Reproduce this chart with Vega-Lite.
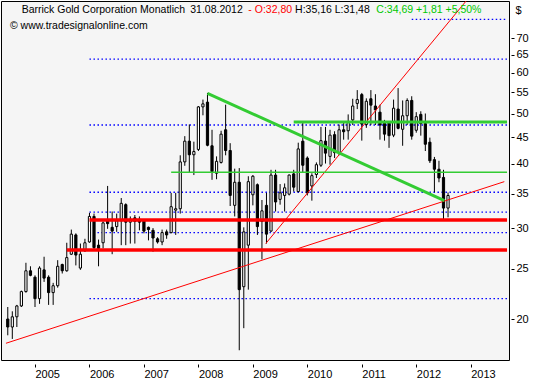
{
  "$schema": "https://vega.github.io/schema/vega-lite/v6.json",
  "autosize": {"type": "none"},
  "padding": {"left": 1, "top": 1, "right": 24, "bottom": 19},
  "width": 508,
  "height": 359,
  "background": "white",
  "config": {
    "view": {"fill": "#f5f5f5", "stroke": "black", "strokeWidth": 1},
    "font": "Liberation Sans"
  },
  "datasets": {
    "candles": [
      {"m":"2004-07","i":-6,"o":20.0,"h":21.1,"l":18.6,"c":19.3},
      {"m":"2004-08","i":-5,"o":19.3,"h":20.7,"l":18.3,"c":20.2},
      {"m":"2004-09","i":-4,"o":20.2,"h":21.3,"l":19.3,"c":21.2},
      {"m":"2004-10","i":-3,"o":21.2,"h":22.7,"l":21.1,"c":22.6},
      {"m":"2004-11","i":-2,"o":22.6,"h":25.7,"l":22.5,"c":24.8},
      {"m":"2004-12","i":-1,"o":24.8,"h":25.3,"l":24.2,"c":24.3},
      {"m":"2005-01","i":0,"o":24.1,"h":24.3,"l":21.1,"c":21.9},
      {"m":"2005-02","i":1,"o":21.9,"h":25.3,"l":21.4,"c":25.1},
      {"m":"2005-03","i":2,"o":24.9,"h":26.4,"l":23.6,"c":24.0},
      {"m":"2005-04","i":3,"o":24.1,"h":24.3,"l":21.3,"c":22.5},
      {"m":"2005-05","i":4,"o":22.5,"h":23.5,"l":21.3,"c":23.2},
      {"m":"2005-06","i":5,"o":23.2,"h":26.0,"l":23.0,"c":25.3},
      {"m":"2005-07","i":6,"o":25.5,"h":25.6,"l":24.5,"c":24.8},
      {"m":"2005-08","i":7,"o":24.8,"h":28.1,"l":24.7,"c":26.3},
      {"m":"2005-09","i":8,"o":26.7,"h":29.8,"l":26.6,"c":29.2},
      {"m":"2005-10","i":9,"o":29.1,"h":29.3,"l":25.4,"c":26.6},
      {"m":"2005-11","i":10,"o":25.1,"h":28.0,"l":24.9,"c":26.7},
      {"m":"2005-12","i":11,"o":27.1,"h":28.6,"l":27.0,"c":28.1},
      {"m":"2006-01","i":12,"o":28.2,"h":32.1,"l":28.1,"c":31.6},
      {"m":"2006-02","i":13,"o":31.6,"h":32.0,"l":27.2,"c":27.5},
      {"m":"2006-03","i":14,"o":27.8,"h":28.5,"l":25.3,"c":27.4},
      {"m":"2006-04","i":15,"o":28.1,"h":30.9,"l":27.4,"c":30.7},
      {"m":"2006-05","i":16,"o":31.0,"h":36.2,"l":29.9,"c":30.6},
      {"m":"2006-06","i":17,"o":30.1,"h":32.3,"l":26.7,"c":29.6},
      {"m":"2006-07","i":18,"o":30.2,"h":32.0,"l":29.5,"c":31.0},
      {"m":"2006-08","i":19,"o":31.0,"h":34.3,"l":27.8,"c":33.5},
      {"m":"2006-09","i":20,"o":33.3,"h":33.5,"l":27.8,"c":30.8},
      {"m":"2006-10","i":21,"o":30.8,"h":31.6,"l":28.0,"c":31.2},
      {"m":"2006-11","i":22,"o":31.4,"h":31.8,"l":28.0,"c":30.9},
      {"m":"2006-12","i":23,"o":31.2,"h":31.6,"l":29.7,"c":30.8},
      {"m":"2007-01","i":24,"o":31.0,"h":31.2,"l":29.3,"c":29.6},
      {"m":"2007-02","i":25,"o":30.1,"h":30.2,"l":28.4,"c":29.8},
      {"m":"2007-03","i":26,"o":29.7,"h":30.0,"l":27.0,"c":28.7},
      {"m":"2007-04","i":27,"o":28.6,"h":28.8,"l":28.0,"c":28.2},
      {"m":"2007-05","i":28,"o":28.2,"h":29.8,"l":27.8,"c":29.4},
      {"m":"2007-06","i":29,"o":29.5,"h":29.8,"l":28.6,"c":29.1},
      {"m":"2007-07","i":30,"o":29.4,"h":35.1,"l":29.3,"c":33.0},
      {"m":"2007-08","i":31,"o":32.5,"h":35.1,"l":29.1,"c":32.7},
      {"m":"2007-09","i":32,"o":32.7,"h":41.5,"l":32.0,"c":40.3},
      {"m":"2007-10","i":33,"o":40.3,"h":45.2,"l":39.6,"c":44.2},
      {"m":"2007-11","i":34,"o":44.2,"h":47.6,"l":38.5,"c":41.6},
      {"m":"2007-12","i":35,"o":41.6,"h":44.1,"l":38.0,"c":42.2},
      {"m":"2008-01","i":36,"o":42.6,"h":51.7,"l":42.3,"c":51.5},
      {"m":"2008-02","i":37,"o":51.5,"h":53.2,"l":49.6,"c":52.2},
      {"m":"2008-03","i":38,"o":52.6,"h":54.8,"l":43.2,"c":43.4},
      {"m":"2008-04","i":39,"o":43.3,"h":46.5,"l":37.2,"c":38.6},
      {"m":"2008-05","i":40,"o":38.3,"h":41.3,"l":37.3,"c":40.4},
      {"m":"2008-06","i":41,"o":40.2,"h":46.3,"l":40.0,"c":45.6},
      {"m":"2008-07","i":42,"o":46.5,"h":52.0,"l":41.5,"c":42.4},
      {"m":"2008-08","i":43,"o":42.4,"h":43.8,"l":33.1,"c":34.7},
      {"m":"2008-09","i":44,"o":33.2,"h":39.1,"l":31.6,"c":36.8},
      {"m":"2008-10","i":45,"o":36.8,"h":39.2,"l":17.4,"c":22.8},
      {"m":"2008-11","i":46,"o":23.1,"h":30.1,"l":19.2,"c":29.5},
      {"m":"2008-12","i":47,"o":27.8,"h":37.8,"l":22.8,"c":36.9},
      {"m":"2009-01","i":48,"o":34.8,"h":38.0,"l":33.2,"c":37.8},
      {"m":"2009-02","i":49,"o":36.4,"h":36.6,"l":29.1,"c":30.2},
      {"m":"2009-03","i":50,"o":30.9,"h":34.0,"l":26.1,"c":32.4},
      {"m":"2009-04","i":51,"o":33.2,"h":35.1,"l":28.0,"c":29.2},
      {"m":"2009-05","i":52,"o":29.6,"h":38.9,"l":29.5,"c":38.0},
      {"m":"2009-06","i":53,"o":38.0,"h":38.9,"l":32.3,"c":33.7},
      {"m":"2009-07","i":54,"o":34.1,"h":36.5,"l":33.3,"c":35.1},
      {"m":"2009-08","i":55,"o":34.7,"h":36.6,"l":32.3,"c":35.9},
      {"m":"2009-09","i":56,"o":34.9,"h":38.1,"l":34.7,"c":38.0},
      {"m":"2009-10","i":57,"o":38.2,"h":38.9,"l":35.3,"c":36.0},
      {"m":"2009-11","i":58,"o":35.3,"h":43.9,"l":35.2,"c":42.7},
      {"m":"2009-12","i":59,"o":44.2,"h":48.0,"l":38.5,"c":39.7},
      {"m":"2010-01","i":60,"o":41.0,"h":41.3,"l":34.7,"c":35.1},
      {"m":"2010-02","i":61,"o":36.2,"h":38.3,"l":33.9,"c":37.9},
      {"m":"2010-03","i":62,"o":38.1,"h":40.2,"l":37.5,"c":39.8},
      {"m":"2010-04","i":63,"o":39.7,"h":47.1,"l":39.4,"c":44.3},
      {"m":"2010-05","i":64,"o":44.2,"h":47.1,"l":40.0,"c":41.9},
      {"m":"2010-06","i":65,"o":41.3,"h":46.5,"l":39.8,"c":45.4},
      {"m":"2010-07","i":66,"o":45.5,"h":46.2,"l":41.0,"c":42.0},
      {"m":"2010-08","i":67,"o":42.0,"h":47.6,"l":41.5,"c":46.5},
      {"m":"2010-09","i":68,"o":46.5,"h":48.3,"l":44.5,"c":46.1},
      {"m":"2010-10","i":69,"o":46.3,"h":49.8,"l":44.5,"c":48.1},
      {"m":"2010-11","i":70,"o":48.6,"h":53.4,"l":47.5,"c":51.7},
      {"m":"2010-12","i":71,"o":52.3,"h":55.5,"l":51.0,"c":53.2},
      {"m":"2011-01","i":72,"o":54.4,"h":54.8,"l":44.3,"c":47.7},
      {"m":"2011-02","i":73,"o":47.6,"h":53.5,"l":46.9,"c":52.8},
      {"m":"2011-03","i":74,"o":53.4,"h":55.5,"l":47.5,"c":51.9},
      {"m":"2011-04","i":75,"o":51.7,"h":54.5,"l":47.5,"c":50.8},
      {"m":"2011-05","i":76,"o":50.3,"h":52.0,"l":44.5,"c":47.5},
      {"m":"2011-06","i":77,"o":47.9,"h":48.6,"l":44.3,"c":45.6},
      {"m":"2011-07","i":78,"o":48.0,"h":48.2,"l":42.9,"c":45.3},
      {"m":"2011-08","i":79,"o":45.4,"h":53.2,"l":45.0,"c":51.2},
      {"m":"2011-09","i":80,"o":51.0,"h":56.0,"l":46.6,"c":46.8},
      {"m":"2011-10","i":81,"o":46.6,"h":53.0,"l":43.3,"c":49.5},
      {"m":"2011-11","i":82,"o":49.5,"h":53.5,"l":47.5,"c":53.0},
      {"m":"2011-12","i":83,"o":53.0,"h":54.0,"l":44.5,"c":45.2},
      {"m":"2012-01","i":84,"o":46.4,"h":50.3,"l":45.9,"c":49.3},
      {"m":"2012-02","i":85,"o":49.8,"h":50.5,"l":45.3,"c":47.8},
      {"m":"2012-03","i":86,"o":47.8,"h":50.0,"l":42.3,"c":43.6},
      {"m":"2012-04","i":87,"o":44.0,"h":44.9,"l":40.1,"c":40.5},
      {"m":"2012-05","i":88,"o":40.7,"h":41.2,"l":35.2,"c":39.0},
      {"m":"2012-06","i":89,"o":39.0,"h":40.5,"l":36.8,"c":37.5},
      {"m":"2012-07","i":90,"o":37.6,"h":38.9,"l":31.2,"c":32.8},
      {"m":"2012-08","i":91,"o":32.8,"h":35.16,"l":31.48,"c":34.69}
    ],
    "levels": [
      {"kind":"fib","x1":83,"x2":104,"y1":76.1,"y2":76.1},
      {"kind":"fib","x1":12,"x2":104,"y1":63.7,"y2":63.7},
      {"kind":"fib","x1":12,"x2":104,"y1":47.5,"y2":47.5},
      {"kind":"fib","x1":12,"x2":104,"y1":35.2,"y2":35.2},
      {"kind":"fib","x1":12,"x2":104,"y1":32.2,"y2":32.2},
      {"kind":"fib","x1":12,"x2":104,"y1":29.4,"y2":29.4},
      {"kind":"fib","x1":12,"x2":104,"y1":21.9,"y2":21.9},
      {"kind":"trend","x1":-6.4,"x2":103.4,"y1":17.95,"y2":36.9},
      {"kind":"trend","x1":50.84,"x2":95.0,"y1":28.0,"y2":82.6},
      {"kind":"support","x1":12,"x2":104,"y1":31.1,"y2":31.1},
      {"kind":"support","x1":7,"x2":104,"y1":27.2,"y2":27.2},
      {"kind":"greenThin","x1":30,"x2":104,"y1":38.47,"y2":38.47},
      {"kind":"greenThick","x1":38,"x2":90.2,"y1":54.7,"y2":33.9},
      {"kind":"greenThick","x1":57,"x2":104,"y1":48.13,"y2":48.13}
    ],
    "notes": [
      {"kind":"plain","x":-2.94,"y":79.3,"text":"Barrick Gold Corporation Monatlich"},
      {"kind":"plain","x":34.2,"y":79.3,"text":"31.08.2012"},
      {"kind":"open","x":47.0,"y":79.3,"text":"- O:32,80"},
      {"kind":"plain","x":57.3,"y":79.3,"text":"H:35,16 L:31,48"},
      {"kind":"close","x":75.2,"y":79.3,"text":"C:34,69 +1,81 +5,50%"},
      {"kind":"plain","x":-5.53,"y":73.85,"text":"© www.tradesignalonline.com"}
    ]
  },
  "layer": [
    {
      "data": {"name": "levels"},
      "transform": [{"filter": "datum.kind == 'fib'"}],
      "mark": {"type": "rule", "clip": true, "color": "#0000ff", "strokeWidth": 1.3, "strokeDash": [1.5, 2.5]},
      "encoding": {
        "x": {
          "field": "x1", "type": "quantitative",
          "scale": {"domain": [-6.39, 103.33], "nice": false, "zero": false},
          "axis": {
            "values": [0, 12, 24, 36, 48, 60, 72, 84, 96],
            "labelExpr": "'' + (2005 + datum.value / 12)",
            "title": null, "grid": false, "domain": false,
            "offset": 4, "tickSize": 3, "tickColor": "black",
            "labelAlign": "left", "labelOffset": 0, "labelPadding": 1,
            "labelBaseline": "top",
            "labelFont": "Liberation Sans", "labelFontSize": 11, "labelColor": "black",
            "labelFlush": false, "labelOverlap": false
          }
        },
        "x2": {"field": "x2"},
        "y": {
          "field": "y1", "type": "quantitative",
          "scale": {"type": "log", "domain": [16.66, 82.57], "nice": false, "zero": false},
          "axis": {
            "orient": "right",
            "values": [20, 25, 30, 35, 40, 45, 50, 55, 60, 65, 70],
            "format": "d",
            "title": "$", "titleAngle": 0, "titleAlign": "left", "titleBaseline": "middle",
            "titleX": 4, "titleY": 9, "titleFont": "Liberation Sans", "titleFontSize": 11,
            "titleFontWeight": "normal", "titleColor": "black",
            "grid": false, "domain": false, "offset": 2, "tickSize": 3, "tickColor": "black",
            "labelPadding": 2, "labelFont": "Liberation Sans", "labelFontSize": 11, "labelColor": "black"
          }
        },
        "y2": {"field": "y2"}
      }
    },
    {
      "data": {"name": "candles"},
      "mark": {"type": "rule", "color": "black", "strokeWidth": 1},
      "encoding": {
        "x": {"field": "i", "type": "quantitative"},
        "y": {"field": "l", "type": "quantitative"},
        "y2": {"field": "h"}
      }
    },
    {
      "data": {"name": "candles"},
      "mark": {"type": "bar", "size": 2.2, "stroke": "black", "strokeWidth": 1},
      "encoding": {
        "x": {"field": "i", "type": "quantitative"},
        "y": {"field": "o", "type": "quantitative"},
        "y2": {"field": "c"},
        "fill": {"condition": {"test": "datum.c >= datum.o", "value": "white"}, "value": "black"}
      }
    },
    {
      "data": {"name": "levels"},
      "transform": [{"filter": "datum.kind == 'trend'"}],
      "mark": {"type": "rule", "clip": true, "color": "#ff0000", "strokeWidth": 1},
      "encoding": {
        "x": {"field": "x1", "type": "quantitative"},
        "x2": {"field": "x2"},
        "y": {"field": "y1", "type": "quantitative"},
        "y2": {"field": "y2"}
      }
    },
    {
      "data": {"name": "levels"},
      "transform": [{"filter": "datum.kind == 'support'"}],
      "mark": {"type": "rule", "clip": true, "color": "#ff0000", "strokeWidth": 3.5},
      "encoding": {
        "x": {"field": "x1", "type": "quantitative"},
        "x2": {"field": "x2"},
        "y": {"field": "y1", "type": "quantitative"},
        "y2": {"field": "y2"}
      }
    },
    {
      "data": {"name": "levels"},
      "transform": [{"filter": "datum.kind == 'greenThin'"}],
      "mark": {"type": "rule", "clip": true, "color": "#33cc33", "strokeWidth": 1.6},
      "encoding": {
        "x": {"field": "x1", "type": "quantitative"},
        "x2": {"field": "x2"},
        "y": {"field": "y1", "type": "quantitative"},
        "y2": {"field": "y2"}
      }
    },
    {
      "data": {"name": "levels"},
      "transform": [{"filter": "datum.kind == 'greenThick'"}],
      "mark": {"type": "rule", "clip": true, "color": "#33cc33", "strokeWidth": 3},
      "encoding": {
        "x": {"field": "x1", "type": "quantitative"},
        "x2": {"field": "x2"},
        "y": {"field": "y1", "type": "quantitative"},
        "y2": {"field": "y2"}
      }
    },
    {
      "data": {"name": "notes"},
      "mark": {"type": "text", "align": "left", "baseline": "middle", "font": "Liberation Sans", "fontSize": 10.5},
      "encoding": {
        "x": {"field": "x", "type": "quantitative"},
        "y": {"field": "y", "type": "quantitative"},
        "text": {"field": "text"},
        "color": {
          "field": "kind", "type": "nominal", "legend": null,
          "scale": {"domain": ["plain", "open", "close"], "range": ["#000000", "#ff0000", "#00c800"]}
        }
      }
    }
  ]
}
